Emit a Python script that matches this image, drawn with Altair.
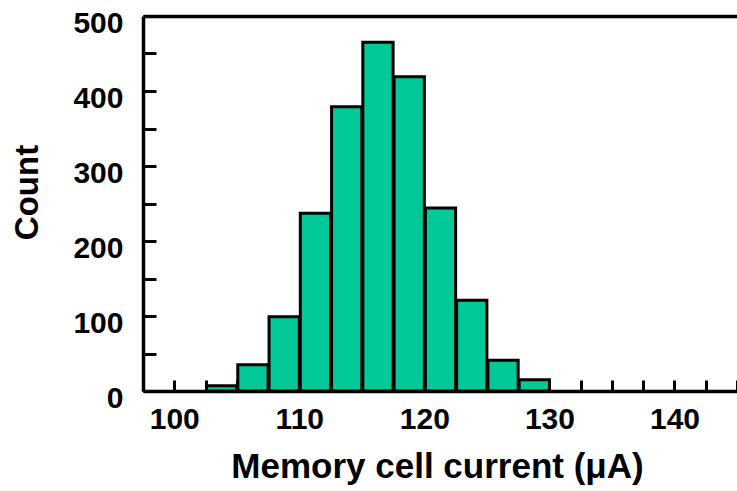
import altair as alt
import pandas as pd

# Histogram bins (µA) and counts
bin_start = [102.5, 105.0, 107.5, 110.0, 112.5, 115.0, 117.5, 120.0, 122.5, 125.0, 127.5]
bin_end = [105.0, 107.5, 110.0, 112.5, 115.0, 117.5, 120.0, 122.5, 125.0, 127.5, 130.0]
counts = [7, 35, 99, 237, 379, 465, 419, 244, 121, 41, 15]

x_label_values = [100, 110, 120, 130, 140]
x_tick_values = [97.5, 100, 102.5, 105, 107.5, 110, 112.5, 115, 117.5, 120, 122.5,
                 125, 127.5, 130, 132.5, 135, 137.5, 140, 142.5, 145]
y_label_values = [0, 100, 200, 300, 400, 500]
y_tick_values = [0, 50, 100, 150, 200, 250, 300, 350, 400, 450, 500]

df = pd.DataFrame({"start": bin_start, "end": bin_end, "count": counts})

FONT = "Liberation Sans"
x_scale = alt.Scale(domain=[97.5, 145], nice=False, zero=False)
y_scale = alt.Scale(domain=[0, 500], nice=False, zero=False)

bars = alt.Chart(df).mark_bar(
    fill="#00C896", stroke="black", strokeWidth=3, strokeJoin="miter"
).encode(
    x=alt.X(
        "start:Q", bin="binned", scale=x_scale,
        axis=alt.Axis(
            orient="bottom", values=x_label_values, format="d",
            ticks=False, tickSize=0, labelPadding=13, labelFlush=False,
            labelOverlap=False, labelFont=FONT, labelFontSize=30,
            labelFontWeight="bold", labelColor="black",
            domainColor="black", domainWidth=3.5, grid=False,
            title="Memory cell current (μA)", titleFont=FONT, titleFontSize=35,
            titleFontWeight="bold", titleColor="black",
            titleX=294, titleY=86, titleBaseline="alphabetic",
        ),
    ),
    x2="end:Q",
    y=alt.Y(
        "count:Q", scale=y_scale,
        axis=alt.Axis(
            orient="left", values=y_label_values, format="d",
            ticks=False, tickSize=0, labelPadding=20, labelOffset=7,
            labelFlush=False, labelOverlap=False, labelFont=FONT,
            labelFontSize=30, labelFontWeight="bold", labelColor="black",
            domainColor="black", domainWidth=3.5, grid=False,
            title="Count", titleFont=FONT, titleFontSize=33,
            titleFontWeight="bold", titleColor="black",
            titleX=-106, titleY=176, titleBaseline="alphabetic",
        ),
    ),
)

tick_layer = alt.Chart(df).mark_point(opacity=0).encode(
    x=alt.X(
        "start:Q", scale=x_scale,
        axis=alt.Axis(
            orient="bottom", offset=-11, tickSize=11, tickWidth=3,
            tickColor="black", values=x_tick_values, labels=False,
            domain=False, grid=False, title=None,
        ),
    ),
    y=alt.Y(
        "count:Q", scale=y_scale,
        axis=alt.Axis(
            orient="left", offset=-13, tickSize=13, tickWidth=3,
            tickColor="black", values=y_tick_values, labels=False,
            domain=False, grid=False, title=None,
        ),
    ),
)

top_layer = alt.Chart(df).mark_point(opacity=0).encode(
    x=alt.X(
        "start:Q", scale=x_scale,
        axis=alt.Axis(
            orient="top", labels=False, ticks=False, tickSize=0,
            domain=True, domainColor="black", domainWidth=3.5,
            grid=False, title=None,
        ),
    ),
    y=alt.Y("count:Q", scale=y_scale, axis=None),
)

chart = alt.layer(tick_layer, bars, top_layer).resolve_axis(
    x="independent", y="independent"
).properties(
    width=594,
    height=375,
    autosize=alt.AutoSizeParams(type="none"),
    padding={"left": 143, "top": 16, "right": 0, "bottom": 100},
    background="white",
).configure_view(stroke=None)

chart.save("out.html", embed_options={"renderer": "svg", "actions": False})
